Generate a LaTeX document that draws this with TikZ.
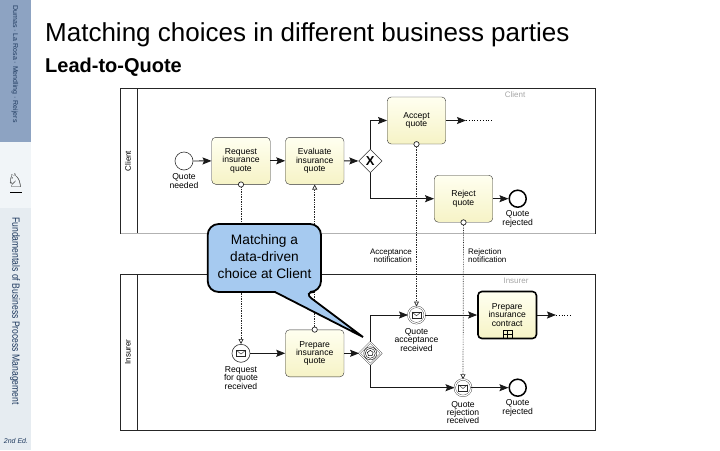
\documentclass[tikz,border=0pt]{standalone}
\usepackage{fontspec}
\setmainfont{Liberation Sans}
\newfontfamily\symfont{DejaVu Sans}
\usetikzlibrary{arrows.meta,shapes.geometric,calc}

\definecolor{sidebluecol}{HTML}{8DA3C2}
\definecolor{sidelightcol}{HTML}{F1F5F8}
\definecolor{sidegraycol}{HTML}{E6ECF1}
\definecolor{sidetextcol}{HTML}{1F3A5F}
\definecolor{tasktopcol}{HTML}{FFFFF0}
\definecolor{taskbotcol}{HTML}{F6F3C6}
\definecolor{bubblecol}{HTML}{A6CAF0}

% envelope drawn inside a message event
\newcommand{\envelope}[1]{
    \draw[line width=0.4pt, black!85, fill=white] ($(#1)+(-4.5,-3)$) rectangle ($(#1)+(4.5,3)$);
    \draw[line width=0.4pt, black!85] ($(#1)+(-4.5,-3)$) -- ($(#1)+(0,0.8)$) -- ($(#1)+(4.5,-3)$);
}

\begin{document}
\begin{tikzpicture}[
        x=1pt, y=-1pt,
        task/.style={rectangle, draw=black!80, top color=tasktopcol, bottom color=taskbotcol, minimum width=58.5pt, minimum height=47pt, inner sep=0pt, rounded corners=4pt, align=center, font=\fontsize{8.6}{8.3}\selectfont, execute at begin node={\rule{0pt}{9pt}}},
        startevt/.style={circle, draw=black!80, fill=white, minimum size=18pt, inner sep=0pt, line width=0.6pt},
        endevt/.style={circle, draw=black, fill=white, minimum size=17pt, inner sep=0pt, line width=1.5pt},
        catchevt/.style={circle, draw=black!75, double=white, double distance=1.2pt, minimum size=16.5pt, inner sep=0pt, line width=0.4pt},
        gate/.style={diamond, draw=black!80, fill=white, minimum size=23.5pt, inner sep=0pt, line width=0.6pt},
        label/.style={align=center, inner sep=0pt, yshift=-1pt, font=\fontsize{8.6}{8.3}\selectfont},
        flowlabel/.style={inner sep=0pt, font=\fontsize{8}{7.6}\selectfont},
        arrow/.style={-{Stealth[length=9pt,width=7pt,inset=1.5pt]}, line width=0.9pt, black!90},
        msgflow/.style={{Circle[open,fill=white,length=6pt,width=6pt]}-{Triangle[open,fill=white,length=5pt,width=5pt]}, densely dotted, line width=0.7pt, black!85, shorten <=-3pt},
        poolline/.style={line width=0.8pt, black!85}
    ]
    \useasboundingbox (0,0) rectangle (720,450);

    % side bar
    \fill[sidegraycol] (0,0) rectangle (31,450);
    \fill[sidelightcol] (0,142) rectangle (31,208);
    \fill[sidebluecol] (0,0) rectangle (31,142);
    \node[rotate=-90, text=sidetextcol, font=\fontsize{7}{8}\selectfont, inner sep=0pt] (authors) at (15,64) {Dumas · La Rosa · Mendling · Reijers};
    \node[rotate=-90, xscale=0.82, text=sidetextcol, font=\fontsize{10.5}{11}\selectfont, inner sep=0pt] (book) at (15,311) {Fundamentals of Business Process Management};
    \node[text=black, font=\symfont\fontsize{19}{19}\selectfont, inner sep=0pt] (knight) at (15.5,181) {♘};
    \draw[line width=1.2pt] (10,192.5) -- (22,192.5);
    \node[text=sidetextcol, font=\itshape\fontsize{7}{8}\selectfont, inner sep=0pt] (edition) at (16,441) {2nd Ed.};

    % titles
    \node[anchor=west, inner sep=0pt, font=\fontsize{26}{28}\selectfont] (title) at (45,35) {Matching choices in different business parties};
    \node[anchor=west, inner sep=0pt, font=\bfseries\fontsize{20}{22}\selectfont] (subtitle) at (45,67) {Lead-to-Quote};

    % pools
    \draw[poolline] (120.7,233.7) -- (120.7,88.3) -- (595.5,88.3) -- (595.5,233.7);
    \draw[poolline] (137.7,88.3) -- (137.7,233.7);
    \draw[line width=1.2pt, black!30] (120.7,233.7) -- (595,233.7);
    \draw[poolline] (120.7,274.3) rectangle (595.5,430.3);
    \draw[poolline] (137.7,274.3) -- (137.7,430.3);
    \node[rotate=90, flowlabel] (client) at (128,161) {Client};
    \node[rotate=90, flowlabel] (insurer) at (128,352) {Insurer};
    \node[flowlabel, text=black!35] (clienttag) at (515,94.5) {Client};
    \node[flowlabel, text=black!35] (insurertag) at (516,280.7) {Insurer};

    % client
    \node[startevt] (needed) at (184,161) {};
    \node[label] at (184,180) (neededlabel) {Quote\\needed};
    \node[task] (request) at (241,160.8) {Request\\insurance\\quote};
    \node[task] (evaluate) at (314.7,160.8) {Evaluate\\insurance\\quote};
    \node[gate] (xorgate) at (370.3,161) {};
    \node[font=\bfseries\fontsize{13}{13}\selectfont, inner sep=0pt] (xmark) at (370.3,161) {X};
    \node[task] (accept) at (416.5,120.5) {Accept\\quote};
    \node[task] (reject) at (463.5,198.7) {Reject\\quote};
    \node[endevt] (rejectedc) at (517.7,198.7) {};
    \node[label] at (517.7,218) (rejectedclabel) {Quote\\rejected};
    \coordinate (acceptout) at (466,120.5);
    \coordinate (acceptdots) at (492,120.5);

    % insurer
    \node[startevt] (received) at (241,353.3) {};
    \envelope{received}
    \node[label] at (241,377) (receivedlabel) {Request\\for quote\\received};
    \node[task] (prepare) at (314.7,353.3) {Prepare\\insurance\\quote};
    \node[gate, double=white, double distance=1pt, line width=0.4pt, minimum size=22pt] (evtgate) at (370.3,353.3) {};
    \draw[line width=0.4pt] (evtgate) circle (6.5pt) (evtgate) circle (5pt);
    \node[regular polygon, regular polygon sides=5, draw, line width=0.5pt, minimum size=6pt, inner sep=0pt] (pentagon) at (370.3,353.3) {};
    \node[catchevt] (accepted) at (416.5,315) {};
    \envelope{accepted}
    \node[label] at (416.5,339) (acceptedlabel) {Quote\\acceptance\\received};
    \node[task, line width=1.6pt, draw=black] (contract) at (507.2,315) {Prepare\\insurance\\contract};
    \draw[line width=0.5pt] (503,330.7) rectangle (512,338.7);
    \draw[line width=0.5pt] (503,334.7) -- (512,334.7) (507.5,330.7) -- (507.5,338.7);
    \coordinate (contractout) at (556,315);
    \coordinate (contractdots) at (571,315);
    \node[catchevt] (rejectedmsg) at (463,387.7) {};
    \envelope{rejectedmsg}
    \node[label] at (463,411.7) (rejectedmsglabel) {Quote\\rejection\\received};
    \node[endevt] (rejectedi) at (517.7,387.7) {};
    \node[label] at (517.7,407) (rejectedilabel) {Quote\\rejected};

    % sequence flows
    \draw[arrow] (needed) -- (request);
    \draw[arrow] (request) -- (evaluate);
    \draw[arrow] (evaluate) -- (xorgate);
    \draw[arrow] (xorgate) |- (accept);
    \draw[arrow] (xorgate) |- (reject);
    \draw[arrow] (accept) -- (acceptout);
    \draw[dotted, line width=0.8pt] (acceptout) -- (acceptdots);
    \draw[arrow] (reject) -- (rejectedc);
    \draw[arrow] (received) -- (prepare);
    \draw[arrow] (prepare) -- (evtgate);
    \draw[arrow] (evtgate) |- (accepted);
    \draw[arrow] (evtgate) |- (rejectedmsg);
    \draw[arrow] (accepted) -- (contract);
    \draw[arrow] (contract) -- (contractout);
    \draw[dotted, line width=0.8pt] (contractout) -- (contractdots);
    \draw[arrow] (rejectedmsg) -- (rejectedi);

    % message flows
    \draw[msgflow] (request.south) -- (received.north);
    \draw[msgflow] (prepare.north) -- (evaluate.south);
    \draw[msgflow] (accept.south) -- (accepted.north);
    \draw[msgflow] (reject.south) -- (rejectedmsg.north);
    \node[flowlabel, anchor=east, align=right] (acceptlabel) at (412,255.7) {Acceptance\\notification};
    \node[flowlabel, anchor=west, align=left] (rejectlabel) at (468,255.7) {Rejection\\notification};

    % callout
    \coordinate (bubbletip) at (363,337);
    \draw[draw=black, fill=bubblecol, line width=1.8pt, rounded corners=11pt] (264,224) -- (321,224) -- (321,292) -- (303,292) [sharp corners] -- (bubbletip) -- (275,292) [rounded corners=11pt] -- (207.7,292) -- (207.7,224) -- cycle;
    \node[align=center, inner sep=0pt, font=\fontsize{13.7}{17}\selectfont] (bubble) at (264.5,256.5) {Matching a\\data-driven\\choice at Client};
\end{tikzpicture}
\end{document}
